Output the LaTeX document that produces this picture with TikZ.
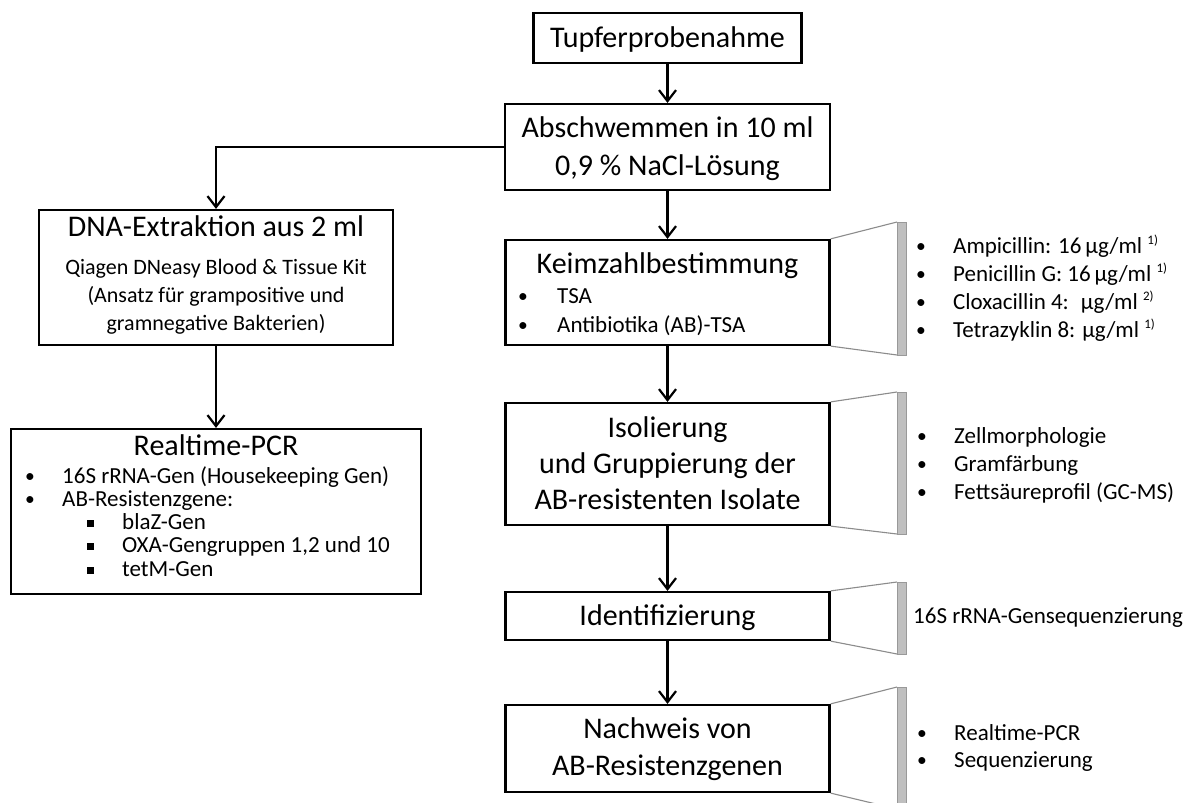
\documentclass[tikz,border=0pt]{standalone}
\usepackage{fontspec}
\setmainfont{Carlito}
\usetikzlibrary{arrows.meta}
\newcommand\fTitle{\fontsize{30}{37}\selectfont}
\newcommand\fBody{\fontsize{23}{28}\selectfont}
\newcommand\fSubx{\fontsize{22}{28}\selectfont}
\newcommand\fSupx{\fontsize{13}{13}\selectfont}
\newcommand\bulx[1]{\makebox[#1][l]{\raisebox{1pt}{\scalebox{0.85}{•}}}}
\newcommand\sqx[1]{\makebox[#1][l]{\rule[2.5pt]{6.5pt}{6.5pt}}}
\newcommand\supx[1]{\ \raisebox{9pt}{\fSupx #1}}
\begin{document}
\begin{tikzpicture}[x=1pt,y=-1pt,
  flowbox/.style={draw, line width=2.2pt, inner sep=0pt},
  ttl/.style={anchor=base, inner sep=0pt, font=\fTitle},
  subtxt/.style={anchor=base, inner sep=0pt, font=\fSubx},
  itm/.style={anchor=base west, inner sep=0pt, font=\fBody},
  arr/.style={line width=2.2pt, -{Straight Barb[length=11pt,width=17pt]}},
  brk/.style={draw=black!45, line width=1.1pt},
  gbar/.style={draw=black!40, fill=black!25, line width=0.9pt}]
\path[use as bounding box, fill=white] (0,0) rectangle (1203,803);

% right column
\node[flowbox, minimum width=268pt, minimum height=50pt] (tupfer) at (667.5,38) {};
\node[ttl] (tupferT) at (667.5,47) {Tupferprobenahme};
\node[flowbox, minimum width=325pt, minimum height=86pt] (absch) at (667.5,147) {};
\node[ttl] (abschA) at (667.5,137) {Abschwemmen in 10 ml};
\node[ttl] (abschB) at (667.5,175) {0,9 \% NaCl-Lösung};
\node[flowbox, minimum width=324pt, minimum height=105pt] (keim) at (667.5,292.5) {};
\node[ttl] (keimT) at (667.5,273) {Keimzahlbestimmung};
\node[itm] (keimA) at (518,303) {\bulx{39pt}TSA};
\node[itm] (keimB) at (518,332) {\bulx{39pt}Antibiotika (AB)-TSA};
\node[flowbox, minimum width=324pt, minimum height=122pt] (isol) at (667.5,464) {};
\node[ttl] (isolA) at (667.5,437) {Isolierung};
\node[ttl] (isolB) at (667.5,473) {und Gruppierung der};
\node[ttl] (isolC) at (667.5,509) {AB-resistenten Isolate};
\node[flowbox, minimum width=324pt, minimum height=48pt] (ident) at (667.5,616) {};
\node[ttl] (identT) at (667.5,625) {Identifizierung};
\node[flowbox, minimum width=324pt, minimum height=87pt] (nach) at (667.5,748.5) {};
\node[ttl] (nachA) at (667.5,738) {Nachweis von};
\node[ttl] (nachB) at (667.5,775) {AB-Resistenzgenen};

% left column
\node[flowbox, minimum width=354pt, minimum height=135pt] (dna) at (216,277.5) {};
\node[ttl] (dnaT) at (216,236) {DNA-Extraktion aus 2 ml};
\node[subtxt] (dnaA) at (216,274) {Qiagen DNeasy Blood \& Tissue Kit};
\node[subtxt] (dnaB) at (216,302) {(Ansatz für grampositive und};
\node[subtxt] (dnaC) at (216,330) {gramnegative Bakterien)};
\node[flowbox, minimum width=410pt, minimum height=165pt] (rt) at (216,511.5) {};
\node[ttl] (rtT) at (216,455) {Realtime-PCR};
\node[itm] (rtA) at (25,483) {\bulx{37pt}16S rRNA-Gen (Housekeeping Gen)};
\node[itm] (rtB) at (25,506) {\bulx{37pt}AB-Resistenzgene:};
\node[itm] (rtC) at (87,529) {\sqx{35pt}blaZ-Gen};
\node[itm] (rtD) at (87,552) {\sqx{35pt}OXA-Gengruppen 1,2 und 10};
\node[itm] (rtE) at (87,576) {\sqx{35pt}tetM-Gen};

% connectors
\draw[arr] (tupfer) -- (absch);
\draw[arr] (absch) -- (keim);
\draw[arr] (absch.west) -| (dna.north);
\draw[arr] (dna) -- (rt);
\draw[arr] (keim) -- (isol);
\draw[arr] (isol) -- (ident);
\draw[arr] (ident) -- (nach);

% brackets
\coordinate (b1t) at (897,222); \coordinate (b1b) at (897,355);
\coordinate (b2t) at (897,392); \coordinate (b2b) at (897,534);
\coordinate (b3t) at (897,582); \coordinate (b3b) at (897,654);
\coordinate (b4t) at (897,687); \coordinate (b4b) at (897,809);
\draw[brk] (keim.north east) -- (b1t); \draw[brk] (keim.south east) -- (b1b);
\draw[brk] (isol.north east) -- (b2t); \draw[brk] (isol.south east) -- (b2b);
\draw[brk] (ident.north east) -- (b3t); \draw[brk] (ident.south east) -- (b3b);
\draw[brk] (nach.north east) -- (b4t); \draw[brk] (nach.south east) -- (b4b);
\draw[gbar] (b1t) rectangle ([xshift=9pt]b1b);
\draw[gbar] (b2t) rectangle ([xshift=9pt]b2b);
\draw[gbar] (b3t) rectangle ([xshift=9pt]b3b);
\draw[gbar] (b4t) rectangle ([xshift=9pt]b4b);

% annotations
\node[itm] (a1) at (916,253) {\bulx{37pt}Ampicillin: 16\,µg/ml\supx{1)}};
\node[itm] (a2) at (916,281) {\bulx{37pt}Penicillin G: 16\,µg/ml\supx{1)}};
\node[itm] (a3) at (916,309) {\bulx{37pt}Cloxacillin 4: \ µg/ml\supx{2)}};
\node[itm] (a4) at (916,337) {\bulx{37pt}Tetrazyklin 8: µg/ml\supx{1)}};
\node[itm] (c1) at (917,443) {\bulx{37pt}Zellmorphologie};
\node[itm] (c2) at (917,471) {\bulx{37pt}Gramfärbung};
\node[itm] (c3) at (917,499) {\bulx{37pt}Fettsäureprofil (GC-MS)};
\node[itm] (d1) at (913,623) {16S rRNA-Gensequenzierung};
\node[itm] (e1) at (917,740) {\bulx{37pt}Realtime-PCR};
\node[itm] (e2) at (917,767) {\bulx{37pt}Sequenzierung};
\end{tikzpicture}
\end{document}
